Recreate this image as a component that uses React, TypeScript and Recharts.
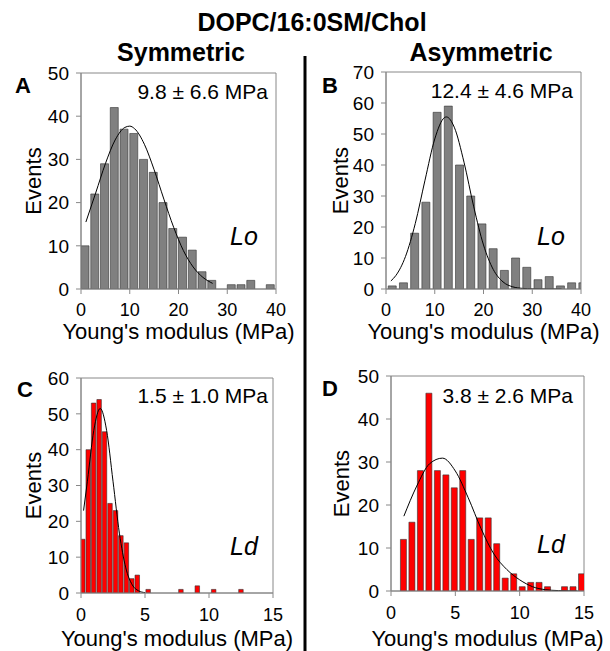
import { ComposedChart, Bar, Line, XAxis, YAxis, ReferenceArea } from 'recharts'

// bin centres (MPa) and event counts
const symLoBins = [0.8, 2.8, 4.8, 6.8, 8.8, 10.8, 12.8, 14.8, 16.8, 18.8, 20.8, 22.8, 24.8, 26.8, 28.8, 30.8, 32.8, 34.8, 36.8, 38.8]
const symLoEvents = [10, 22, 29, 42, 37, 36, 30, 27, 20, 14, 12, 9, 4, 2, 0, 1, 1, 2, 0, 1]

const asymLoBins = [1.2, 3.5, 5.8, 8.1, 10.4, 12.7, 15.0, 17.3, 19.6, 21.9, 24.2, 26.5, 28.8, 31.1, 33.4, 35.7, 38.0, 40.3]
const asymLoEvents = [1, 2, 18, 28, 57, 59, 40, 30, 21, 13, 6, 10, 7, 3, 4, 1, 2, 2]

const symLdBins = [0.17, 0.6, 1.02, 1.45, 1.87, 2.3, 2.73, 3.15, 3.58, 4.0, 4.43, 4.86, 5.28, 5.71, 6.13, 6.56, 6.99, 7.41, 7.84, 8.26, 8.69, 9.12, 9.54, 9.97, 10.4, 10.82, 11.25, 11.67, 12.1, 12.53]
const symLdEvents = [15, 40, 53, 54, 45, 25, 23, 16, 14, 4, 5, 0, 1, 0, 0, 0, 0, 0, 1, 0, 0, 2, 0, 0, 1, 0, 0, 0, 0, 1]

const asymLdBins = [0.98, 1.64, 2.3, 2.96, 3.62, 4.28, 4.93, 5.59, 6.25, 6.91, 7.57, 8.23, 8.89, 9.55, 10.21, 10.87, 11.52, 12.18, 12.84, 13.5, 14.16, 14.82]
const asymLdEvents = [12, 16, 28, 46, 28, 27, 24, 28, 12, 17, 17, 11, 3, 4, 1, 2, 2, 1, 0, 1, 1, 4]

// fitted curves, points
const symLoFitX = [1, 3, 5, 7, 9, 10, 11, 13, 15, 17, 19, 21, 23, 25, 27]
const symLoFitY = [15.5, 22.2, 29, 34.5, 37.4, 37.7, 37.1, 33.5, 27.6, 20.8, 14.3, 8.9, 5.1, 2.7, 1.3]

const asymLoFitX = [1, 2, 4, 6, 8, 10, 12, 12.4, 14, 16, 18, 20, 22, 24, 26, 28, 30, 33, 36]
const asymLoFitY = [2.6, 4.3, 10.5, 21.1, 35.1, 48.4, 55.3, 55.5, 52.2, 40.9, 26.5, 14.2, 6.3, 2.3, 0.7, 0.2, 0.05, 0, 0]

const symLdFitX = [0.2, 0.5, 1, 1.5, 2, 2.5, 3, 3.5, 4, 4.5, 5]
const symLdFitY = [23, 31.2, 45.4, 51.5, 45.4, 31.2, 16.7, 7, 2.3, 0.6, 0.1]

const asymLdFitX = [1, 2, 3, 4, 5, 6, 7, 8, 9, 10, 11, 12, 13, 14.5]
const asymLdFitY = [17.4, 24.4, 29.6, 30.9, 27.9, 21.7, 14.5, 8.6, 5.0, 2.6, 1.0, 0.3, 0.1, 0]

const wideTicks = [0, 10, 20, 30, 40]
const narrowTicks = [0, 5, 10, 15]

const font = '"Liberation Sans", Arial, sans-serif'
const axisGray = '#888'

function Panel(p: any) {
  const bars = p.bins.map((x: number, i: number) => ({ x, events: p.events[i] }))
  const fit = p.fitX.map((x: number, i: number) => ({ x, y: p.fitY[i] }))
  const yTicks = []
  for (let v = 0; v <= p.yMax; v += 10) yTicks.push(v)
  return (
    <div style={{ position: 'absolute', left: p.left, top: p.top }}>
      <ComposedChart width={p.width} height={p.height} data={bars} margin={p.margin}>
        <XAxis
          xAxisId="bins"
          type="number"
          dataKey="x"
          domain={[0, p.xMax]}
          ticks={p.xTicks}
          allowDataOverflow
          height={p.xHeight}
          stroke={axisGray}
          tickSize={5}
          tickMargin={p.tickGap}
          tick={{ fill: '#000', fontSize: 18, fontFamily: font }}
          label={{
            value: "Young's modulus (MPa)",
            position: 'insideBottom',
            offset: p.titleOffset,
            style: { fontSize: 22, fill: '#000', fontFamily: font }
          }}
        />
        <XAxis xAxisId="fit" type="number" dataKey="x" domain={[0, p.xMax]} allowDataOverflow hide />
        <YAxis
          type="number"
          domain={[0, p.yMax]}
          ticks={yTicks}
          allowDataOverflow
          width={p.yWidth}
          stroke={axisGray}
          tickSize={5}
          tickMargin={7}
          tick={{ fill: '#000', fontSize: 19, fontFamily: font }}
          label={{
            value: 'Events',
            angle: -90,
            position: 'insideLeft',
            offset: p.eventsX,
            style: { textAnchor: 'middle', fontSize: 22, fill: '#000', fontFamily: font }
          }}
        />
        <ReferenceArea xAxisId="bins" x1={0} x2={p.xMax} y1={0} y2={p.yMax} fill="none" stroke={axisGray} />
        <Bar
          xAxisId="bins"
          dataKey="events"
          fill={p.fill}
          stroke="#333"
          strokeWidth={0.6}
          barSize={p.barSize}
          isAnimationActive={false}
        />
        <Line
          xAxisId="fit"
          data={fit}
          dataKey="y"
          type="monotone"
          stroke="#000"
          strokeWidth={1}
          dot={false}
          isAnimationActive={false}
        />
      </ComposedChart>
    </div>
  )
}

export default function App() {
  return (
    <div style={{ position: 'absolute', left: 0, top: 0, width: 610, height: 651, background: '#fff', fontFamily: font }}>
      <Panel
        left={0} top={0} width={300} height={345}
        margin={{ top: 73, right: 24, bottom: 0, left: 0 }}
        yWidth={81} xHeight={56} tickGap={9} titleOffset={6} eventsX={33}
        bins={symLoBins} events={symLoEvents} fitX={symLoFitX} fitY={symLoFitY}
        xMax={40} xTicks={wideTicks} yMax={50} fill="#808080" barSize={8}
      />
      <Panel
        left={305} top={0} width={305} height={345}
        margin={{ top: 72, right: 29, bottom: 0, left: 0 }}
        yWidth={81} xHeight={56} tickGap={9} titleOffset={6} eventsX={35}
        bins={asymLoBins} events={asymLoEvents} fitX={asymLoFitX} fitY={asymLoFitY}
        xMax={40} xTicks={wideTicks} yMax={70} fill="#808080" barSize={8}
      />
      <Panel
        left={0} top={305} width={300} height={346}
        margin={{ top: 73, right: 27, bottom: 0, left: 0 }}
        yWidth={81} xHeight={58} tickGap={10} titleOffset={5} eventsX={33}
        bins={symLdBins} events={symLdEvents} fitX={symLdFitX} fitY={symLdFitY}
        xMax={15} xTicks={narrowTicks} yMax={60} fill="#ff0000" barSize={4.5}
      />
      <Panel
        left={305} top={305} width={305} height={346}
        margin={{ top: 71, right: 26, bottom: 0, left: 0 }}
        yWidth={86} xHeight={60} tickGap={10} titleOffset={5} eventsX={36}
        bins={asymLdBins} events={asymLdEvents} fitX={asymLdFitX} fitY={asymLdFitY}
        xMax={15} xTicks={narrowTicks} yMax={50} fill="#ff0000" barSize={6}
      />
      <svg width={610} height={651} style={{ position: 'absolute', left: 0, top: 0, pointerEvents: 'none' }}>
        <line x1={305} y1={56} x2={305} y2={651} stroke="#000" strokeWidth={3} />
        <g fontFamily={font} fill="#000">
          <text x={312} y={31} textAnchor="middle" fontSize={25} fontWeight="bold">DOPC/16:0SM/Chol</text>
          <text x={181} y={61} textAnchor="middle" fontSize={25} fontWeight="bold">Symmetric</text>
          <text x={481} y={61} textAnchor="middle" fontSize={25} fontWeight="bold">Asymmetric</text>
          <text x={15} y={93} fontSize={22} fontWeight="bold">A</text>
          <text x={322} y={93} fontSize={22} fontWeight="bold">B</text>
          <text x={17} y={397} fontSize={22} fontWeight="bold">C</text>
          <text x={322} y={396} fontSize={22} fontWeight="bold">D</text>
          <text x={268} y={99} textAnchor="end" fontSize={21}>9.8 ± 6.6 MPa</text>
          <text x={573} y={98} textAnchor="end" fontSize={21}>12.4 ± 4.6 MPa</text>
          <text x={268} y={403} textAnchor="end" fontSize={21}>1.5 ± 1.0 MPa</text>
          <text x={573} y={403} textAnchor="end" fontSize={21}>3.8 ± 2.6 MPa</text>
          <text x={230} y={245} fontSize={25} fontStyle="italic">Lo</text>
          <text x={537} y={245} fontSize={25} fontStyle="italic">Lo</text>
          <text x={230} y={555} fontSize={25} fontStyle="italic">Ld</text>
          <text x={537} y={553} fontSize={25} fontStyle="italic">Ld</text>
        </g>
      </svg>
    </div>
  )
}
